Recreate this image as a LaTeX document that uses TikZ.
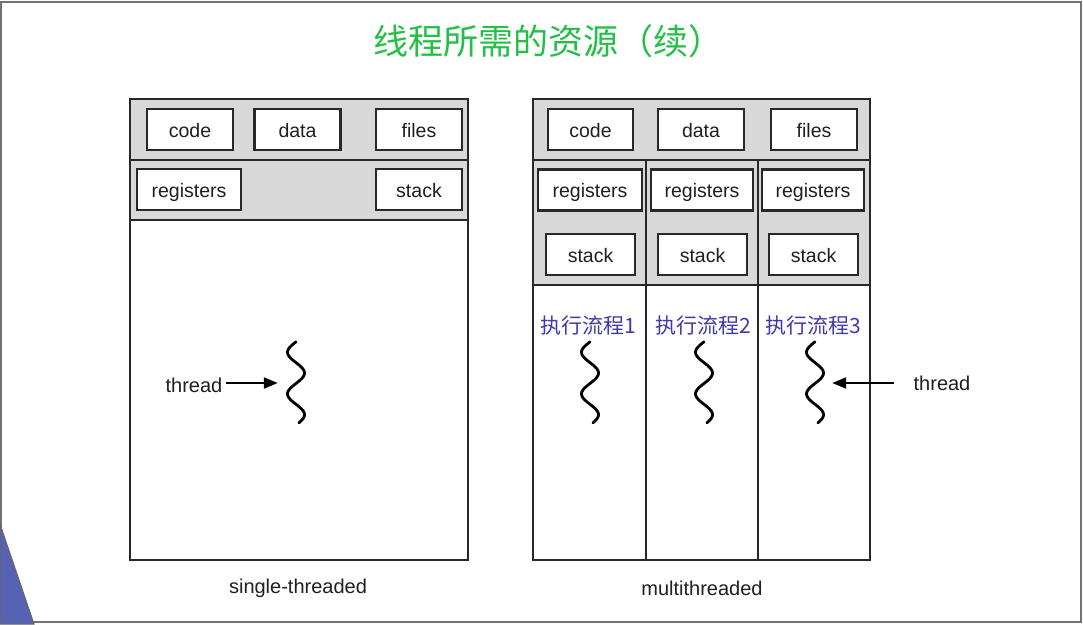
\documentclass[tikz,border=0pt]{standalone}
\usepackage{fontspec}
\setmainfont{Liberation Sans}
\newfontfamily\cjk{Noto Sans CJK SC}
\usetikzlibrary{arrows.meta}

\definecolor{titlegreen}{RGB}{36,190,72}
\definecolor{flowblue}{RGB}{62,58,168}
\definecolor{bandgray}{RGB}{216,216,216}
\definecolor{linegray}{RGB}{40,40,40}
\definecolor{decoblue}{RGB}{88,98,178}

\tikzset{
  box/.style={draw=linegray, line width=2.4pt, fill=white, minimum height=41pt,
    inner sep=0pt, text height=15pt, text depth=0pt, text=black!88,
    font=\fontsize{19.5}{22}\selectfont},
  band/.style={draw=linegray, line width=1.8pt, fill=bandgray},
  panel/.style={draw=linegray, line width=1.8pt, fill=white},
  lbl/.style={text=black!88, font=\fontsize{20}{22}\selectfont},
  flow/.style={text=flowblue, font=\cjk\fontsize{21}{24}\selectfont},
  squig/.style={line width=2.8pt, line cap=round},
  thr/.style={minimum height=82pt, inner sep=0pt},
  ptr/.style={line width=2.2pt, -{Triangle[length=14pt,width=11pt]}},
}

\begin{document}
\begin{tikzpicture}[x=1pt,y=-1pt]
\useasboundingbox (0,0) rectangle (1083,624);
\fill[white] (0,0) rectangle (1083,624);
\draw[black!55, line width=2pt] (1,2) rectangle (1081,622);
\fill[decoblue, draw=black!60, line width=1pt] (0,524) -- (34,624) -- (0,624) -- cycle;

% title
\node[text=titlegreen, font=\cjk\fontsize{35}{40}\selectfont] (title) at (548,41) {线程所需的资源（续）};

% single-threaded
\draw[band] (130,99) rectangle (468,160);
\draw[band] (130,160) rectangle (468,220);
\draw[panel] (130,220) rectangle (468,560);
\node[box, minimum width=86pt] (code1) at (190,129.5) {code};
\node[box, minimum width=86pt] (data1) at (297.5,129.5) {data};
\node[box, minimum width=86pt] (files1) at (419,129.5) {files};
\node[box, minimum width=104pt] (reg1) at (189,189.5) {registers};
\node[box, minimum width=86pt] (stack1) at (419,189.5) {stack};
\node[thr, minimum width=36pt] (th1) at (296,383) {};
\draw[squig, shift={(th1.north)}] plot[domain=0:700, samples=60, smooth] ({-8.5*sin(\x)}, {\x/700*81});
\node[lbl] (lthread) at (194,385) {thread};
\draw[ptr] (lthread.east |- th1.west) -- (th1.west);
\node[lbl] (single) at (298,588) {single-threaded};

% multithreaded
\draw[band] (533,99) rectangle (870,160);
\draw[band] (533,160) rectangle (646,285);
\draw[band] (646,160) rectangle (758,285);
\draw[band] (758,160) rectangle (870,285);
\draw[panel] (533,285) rectangle (646,560);
\draw[panel] (646,285) rectangle (758,560);
\draw[panel] (758,285) rectangle (870,560);
\node[box, minimum width=85pt] (code2) at (590.5,129.5) {code};
\node[box, minimum width=86pt] (data2) at (701,129.5) {data};
\node[box, minimum width=86pt] (files2) at (814,129.5) {files};
\node[box, minimum width=104pt] (regA) at (590,190) {registers};
\node[box, minimum width=102pt] (regB) at (702,190) {registers};
\node[box, minimum width=102pt] (regC) at (813,190) {registers};
\node[box, minimum width=89pt] (stackA) at (590.5,254.5) {stack};
\node[box, minimum width=89pt] (stackB) at (702.5,254.5) {stack};
\node[box, minimum width=89pt] (stackC) at (813.5,254.5) {stack};
\node[flow] (flowA) at (588,326) {执行流程1};
\node[flow] (flowB) at (703,326) {执行流程2};
\node[flow] (flowC) at (813,326) {执行流程3};
\node[thr, minimum width=18pt] (thA) at (590,383) {};
\node[thr, minimum width=18pt] (thB) at (704,383) {};
\node[thr, minimum width=34pt] (thC) at (815,383) {};
\draw[squig, shift={(thA.north)}] plot[domain=0:700, samples=60, smooth] ({-8.5*sin(\x)}, {\x/700*81});
\draw[squig, shift={(thB.north)}] plot[domain=0:700, samples=60, smooth] ({-8.5*sin(\x)}, {\x/700*81});
\draw[squig, shift={(thC.north)}] plot[domain=0:700, samples=60, smooth] ({-8.5*sin(\x)}, {\x/700*81});
\node[lbl] (rthread) at (942,383) {thread};
\draw[ptr, shorten <=16pt] (rthread.west |- thC.east) -- (thC.east);
\node[lbl] (multi) at (702,588) {multithreaded};
\end{tikzpicture}
\end{document}
